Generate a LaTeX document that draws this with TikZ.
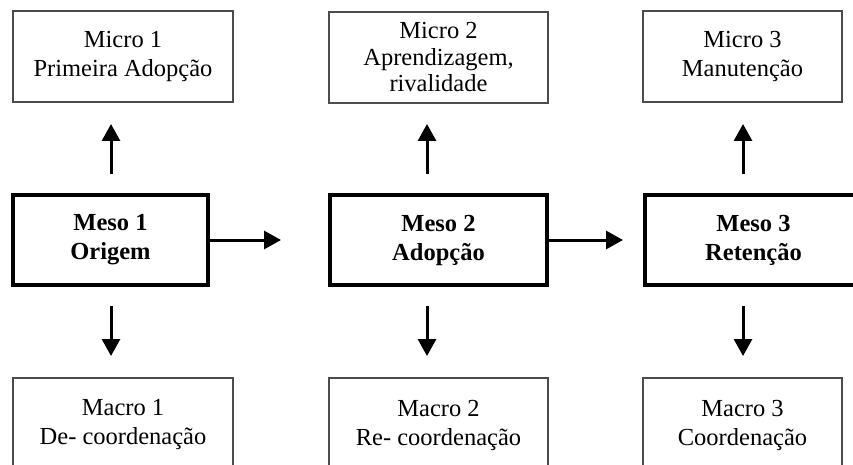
\documentclass[tikz,border=0pt]{standalone}
\usepackage{fontspec}
\setmainfont{Liberation Serif}
\usetikzlibrary{arrows.meta}

\begin{document}
\begin{tikzpicture}[x=1pt,y=-1pt,
  thinbox/.style={draw=black!70, line width=1.4pt, fill=white, inner sep=0pt,
    align=center, font=\fontsize{24.5}{29}\selectfont},
  mesobox/.style={draw=black, line width=4pt, fill=white, inner sep=0pt,
    minimum height=90pt, align=center, font=\fontsize{24.5}{29}\selectfont\bfseries},
  flow/.style={line width=3pt, -{Triangle[length=17pt,width=18pt]}}
]
\useasboundingbox (0,0) rectangle (853,465);
\clip (0,0) rectangle (853,465);

% micro level
\node[thinbox, minimum width=220pt, minimum height=91pt] (micro1) at (123,56.5)
  {Micro 1\\Primeira Adopção};
\node[thinbox, minimum width=219pt, minimum height=91pt,
  font=\fontsize{24.5}{26.5}\selectfont] (micro2) at (438.5,57.5)
  {Micro 2\\Aprendizagem,\\rivalidade};
\node[thinbox, minimum width=199pt, minimum height=91pt] (micro3) at (742.5,56.5)
  {Micro 3\\Manutenção};

% meso level
\node[mesobox, minimum width=195pt] (meso1) at (110.5,240) {\rule{0pt}{6pt}Meso 1\\Origem};
\node[mesobox, minimum width=217pt] (meso2) at (438.5,240) {\rule{0pt}{6pt}Meso 2\\Adopção};
\node[mesobox, minimum width=217pt] (meso3) at (753.5,240) {\rule{0pt}{6pt}Meso 3\\Retenção};

% macro level
\node[thinbox, minimum width=220pt, minimum height=94pt] (macro1) at (123,425)
  {Macro 1\\De- coordenação};
\node[thinbox, minimum width=219pt, minimum height=94pt] (macro2) at (438.5,425)
  {Macro 2\\Re- coordenação};
\node[thinbox, minimum width=199pt, minimum height=94pt] (macro3) at (742.5,425)
  {\rule{0pt}{9pt}Macro 3\\Coordenação};

% arrow end points
\coordinate (up1a) at (111,174);  \coordinate (up1b) at (111,124);
\coordinate (up2a) at (427,174);  \coordinate (up2b) at (427,124);
\coordinate (up3a) at (743,174);  \coordinate (up3b) at (743,124);
\coordinate (dn1a) at (111,306);  \coordinate (dn1b) at (111,356);
\coordinate (dn2a) at (427,306);  \coordinate (dn2b) at (427,356);
\coordinate (dn3a) at (743,306);  \coordinate (dn3b) at (743,356);
\coordinate (h1) at (281,240);
\coordinate (h2) at (623,240);

\draw[flow] (up1a) -- (up1b);
\draw[flow] (up2a) -- (up2b);
\draw[flow] (up3a) -- (up3b);
\draw[flow] (dn1a) -- (dn1b);
\draw[flow] (dn2a) -- (dn2b);
\draw[flow] (dn3a) -- (dn3b);
\draw[flow] (meso1.east) -- (h1);
\draw[flow] (meso2.east) -- (h2);
\end{tikzpicture}
\end{document}
